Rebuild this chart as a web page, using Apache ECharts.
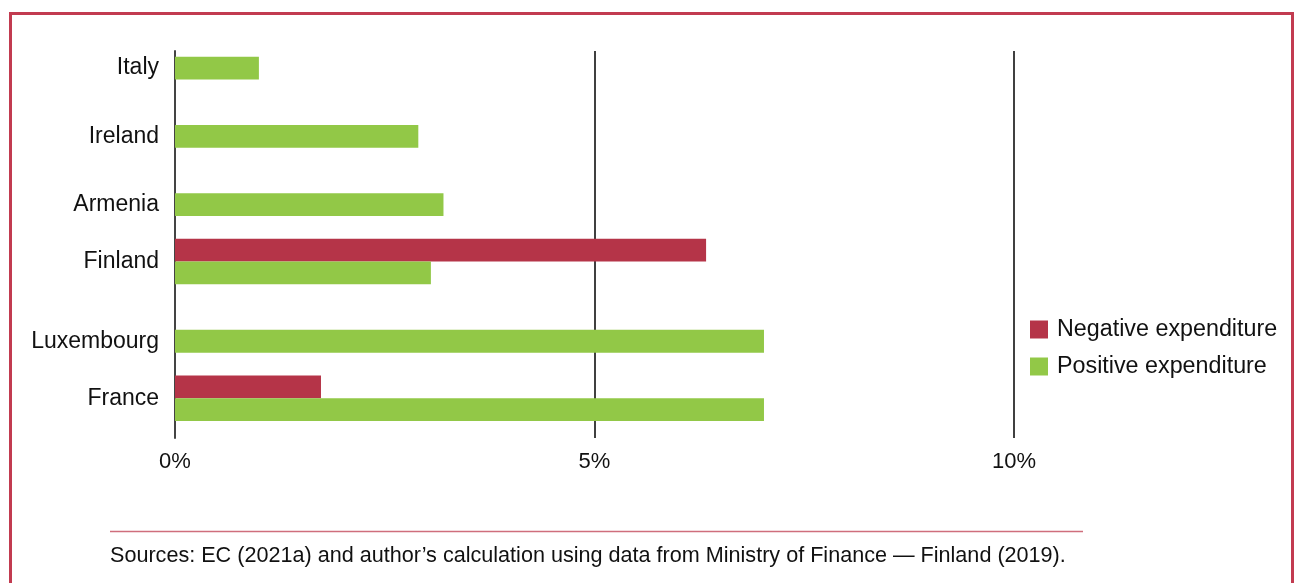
<!DOCTYPE html>
<html>
<head>
<meta charset="utf-8">
<script src="https://cdn.jsdelivr.net/npm/echarts@6/dist/echarts.min.js"></script>
<style>
  html, body { margin: 0; padding: 0; background: #fff; }
  #chart { width: 1300px; height: 583px; }
</style>
</head>
<body>
<div id="chart"></div>
<script>
// ---- data ----
const countries = ['Italy', 'Ireland', 'Armenia', 'Finland', 'Luxembourg', 'France'];
const negativeExpenditure = [null, null, null, 6.33, null, 1.74];
const positiveExpenditure = [1.0, 2.9, 3.2, 3.05, 7.02, 7.02];
const seriesNames = ['Negative expenditure', 'Positive expenditure'];
const xTickValues = [0, 5, 10];
const sourceNote = 'Sources: EC (2021a) and author\u2019s calculation using data from Ministry of Finance \u2014 Finland (2019).';

// ---- layout (row slots for the irregular spacing of the original) ----
const emptyRowsBefore = [0, 2, 2, 1, 2, 1];
const SUB = 4;              // sub-slots per bar row
const GRID_TOP = 51, GRID_BOTTOM_Y = 438;
const TOTAL_SLOTS = 68;     // intervals along the category axis

const nCat = TOTAL_SLOTS + 1;
const catIds = [];
for (let i = 0; i < nCat; i++) catIds.push('s' + i);
const labelAt = {};
const negData = new Array(nCat).fill('-');
const posData = new Array(nCat).fill('-');
let row = 0;
countries.forEach((c, i) => {
  row += emptyRowsBefore[i];
  const firstRow = row;
  if (negativeExpenditure[i] != null) {
    negData[SUB * row + 3] = negativeExpenditure[i];
    row++;
  }
  if (positiveExpenditure[i] != null) {
    posData[SUB * row + 3] = positiveExpenditure[i];
    row++;
  }
  const nRows = row - firstRow;
  labelAt[SUB * firstRow + 3 + (nRows - 1) * SUB / 2] = c;
});
const slot = (GRID_BOTTOM_Y - GRID_TOP) / TOTAL_SLOTS;
const barW = slot * SUB;

const chart = echarts.init(document.getElementById('chart'));
const FONT = '"Liberation Sans", Arial, sans-serif';
chart.setOption({
  animation: false,
  backgroundColor: '#ffffff',
  textStyle: { fontFamily: FONT },
  grid: { left: 175, right: 286, top: GRID_TOP, bottom: 583 - GRID_BOTTOM_Y, containLabel: false },
  legend: {
    orient: 'vertical',
    left: 1030,
    top: 318,
    padding: 0,
    itemWidth: 18,
    itemHeight: 18,
    itemGap: 14,
    icon: 'rect',
    data: seriesNames,
    textStyle: { fontSize: 23.3, color: '#111', fontFamily: FONT, padding: [0, 0, 0, 4] }
  },
  xAxis: {
    type: 'value',
    min: xTickValues[0],
    max: xTickValues[xTickValues.length - 1],
    interval: xTickValues[1] - xTickValues[0],
    axisLine: { show: false },
    axisTick: { show: false },
    axisLabel: { formatter: '{value}%', fontSize: 22, color: '#111', margin: 13, fontFamily: FONT },
    splitLine: { show: true, lineStyle: { color: '#000', width: 1.5 } }
  },
  yAxis: {
    type: 'category',
    inverse: true,
    boundaryGap: false,
    data: catIds,
    axisLine: { show: true, lineStyle: { color: '#444', width: 2 } },
    axisTick: { show: false },
    splitLine: { show: false },
    axisLabel: {
      interval: 0,
      margin: 16,
      fontSize: 23,
      color: '#111',
      fontFamily: FONT,
      padding: [0, 0, 5, 0],
      formatter: (v, i) => labelAt[i] || ''
    }
  },
  series: [
    {
      name: seriesNames[0], type: 'bar', stack: 'one', data: negData,
      barWidth: barW, itemStyle: { color: '#B53448' }, z: 3
    },
    {
      name: seriesNames[1], type: 'bar', stack: 'one', data: posData,
      barWidth: barW, itemStyle: { color: '#92C847' }, z: 3
    }
  ],
  graphic: [
    {
      type: 'rect', silent: true,
      shape: { x: 10.5, y: 13.5, width: 1282, height: 620 },
      style: { fill: 'none', stroke: '#C23B50', lineWidth: 3 }
    },
    {
      type: 'line', silent: true,
      shape: { x1: 110, y1: 531.5, x2: 1083, y2: 531.5 },
      style: { stroke: '#CF6E7C', lineWidth: 1.5 }
    },
    {
      type: 'text', silent: true,
      x: 110, y: 556,
      style: { text: sourceNote, font: '21.6px "Liberation Sans", Arial, sans-serif', fill: '#111', verticalAlign: 'middle', align: 'left' }
    }
  ]
});
</script>
</body>
</html>
